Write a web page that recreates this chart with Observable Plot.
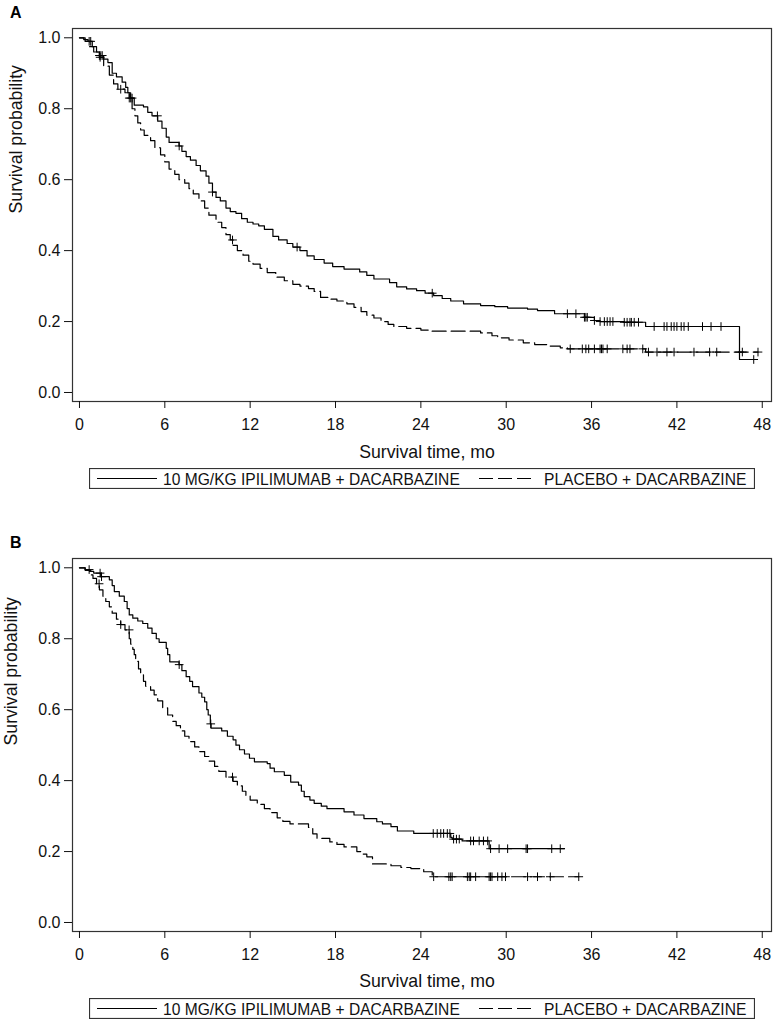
<!DOCTYPE html>
<html>
<head>
<meta charset="utf-8">
<script src="https://cdn.jsdelivr.net/npm/d3@7"></script>
<script src="https://cdn.jsdelivr.net/npm/@observablehq/plot@0.6"></script>
<style>
  html, body { margin: 0; padding: 0; background: #fff; }
  body { font-family: "Liberation Sans", Arial, sans-serif; }
  #wrap { position: relative; width: 774px; height: 1021px; overflow: hidden; }
  .panel { position: absolute; left: 0; }
  .letter { position: absolute; left: 10px; font-weight: bold; font-size: 16px; line-height: 16px; }
  .legend { position: absolute; left: 89px; }
</style>
</head>
<body>
<div id="wrap"></div>
<script>
// ---------------- DATA ----------------
const panelLetters = ["A", "B"];
const xTicks = [0, 6, 12, 18, 24, 30, 36, 42, 48];
const yTicks = [0, 0.2, 0.4, 0.6, 0.8, 1.0];
const xTitle = "Survival time, mo";
const yTitle = "Survival probability";
const seriesNames = ["10 MG/KG IPILIMUMAB + DACARBAZINE", "PLACEBO + DACARBAZINE"];

// Panel A – ipilimumab (solid): step times / survival after each step
const aIpiT = [0, 0.3, 0.6, 0.9, 1.2, 1.4, 1.7, 2.0, 2.3, 2.6, 3.0, 3.25, 3.4, 3.6, 3.85, 4.5, 4.8, 5.1, 5.5, 5.8,
  6.1, 6.3, 7.0, 7.2, 7.5, 7.8, 8.2, 8.5, 8.9, 9.1, 9.35, 9.6, 9.9, 10.3, 10.6, 11.0, 11.4, 11.8, 12.2, 12.6,
  13.0, 13.6, 14.0, 14.6, 15.0, 15.5, 16.0, 16.5, 17.2, 17.8, 18.6, 19.7, 20.2, 20.7, 21.8, 22.3, 23.0, 23.7,
  24.3, 24.9, 25.5, 26.1, 27.0, 28.2, 29.2, 30.1, 31.5, 32.2, 33.4, 35.5, 36.2, 36.6, 38.3, 39.8, 46.4, 47.4];
const aIpiS = [1.0, 0.995, 0.99, 0.975, 0.96, 0.95, 0.94, 0.93, 0.9, 0.89, 0.875, 0.86, 0.845, 0.83, 0.81, 0.805, 0.79, 0.78, 0.765, 0.745,
  0.72, 0.705, 0.695, 0.68, 0.665, 0.655, 0.64, 0.625, 0.61, 0.59, 0.565, 0.55, 0.54, 0.52, 0.51, 0.505, 0.49, 0.48, 0.475, 0.47,
  0.46, 0.44, 0.43, 0.42, 0.41, 0.4, 0.385, 0.375, 0.365, 0.355, 0.348, 0.34, 0.33, 0.32, 0.31, 0.298, 0.292, 0.287,
  0.28, 0.273, 0.265, 0.258, 0.25, 0.245, 0.242, 0.238, 0.235, 0.231, 0.222, 0.212, 0.203, 0.2, 0.198, 0.186, 0.093, 0.093];
const aIpiCens = [0.79, 1.4, 1.5, 1.6, 3.6, 3.7, 5.48, 7.01, 9.35, 15.3, 24.8, 34.3, 34.9, 35.5, 35.6, 35.7, 36.2,
  36.6, 36.9, 37.1, 37.3, 37.5, 38.3, 38.5, 38.7, 38.8, 39.0, 39.3, 40.4, 41.1, 41.3, 41.6, 41.8, 42.0, 42.3,
  42.5, 42.8, 43.8, 44.4, 45.1, 47.4];

// Panel A – placebo (dashed)
const aPlaT = [0, 0.4, 0.7, 1.0, 1.4, 1.7, 2.1, 2.4, 2.7, 3.2, 3.5, 3.7, 3.9, 4.1, 4.3, 4.55, 5.0, 5.3, 5.7, 6.0,
  6.3, 6.7, 7.0, 7.4, 7.7, 8.0, 8.4, 8.8, 9.1, 9.6, 10.0, 10.3, 10.6, 10.8, 11.1, 11.5, 11.9, 12.2, 12.7, 13.2,
  13.8, 14.4, 15.0, 15.5, 16.1, 16.5, 16.95, 17.6, 18.1, 18.8, 19.3, 19.8, 20.2, 20.7, 21.2, 21.7, 22.1, 23.0,
  24.0, 24.7, 28.2, 29.0, 29.4, 30.2, 31.2, 32.0, 32.9, 33.8, 34.3, 39.8, 47.7];
const aPlaS = [1.0, 0.99, 0.975, 0.96, 0.945, 0.92, 0.895, 0.87, 0.855, 0.845, 0.83, 0.8, 0.78, 0.76, 0.74, 0.725, 0.71, 0.69, 0.67, 0.65,
  0.63, 0.615, 0.6, 0.59, 0.575, 0.56, 0.54, 0.52, 0.5, 0.48, 0.465, 0.445, 0.43, 0.415, 0.4, 0.387, 0.37, 0.362, 0.35, 0.338,
  0.325, 0.315, 0.305, 0.3, 0.293, 0.285, 0.268, 0.263, 0.258, 0.25, 0.24, 0.228, 0.218, 0.21, 0.2, 0.192, 0.186, 0.181,
  0.176, 0.173, 0.168, 0.16, 0.154, 0.148, 0.14, 0.135, 0.131, 0.126, 0.123, 0.114, 0.114];
const aPlaCens = [0.68, 1.45, 2.9, 3.5, 10.76, 34.5, 35.35, 35.6, 35.8, 36.2, 36.6, 36.7, 36.8, 37.1, 38.2, 38.5,
  38.7, 39.6, 40.0, 40.6, 41.3, 41.8, 43.2, 44.3, 44.8, 46.4, 46.6, 47.7];

// Panel B – ipilimumab (solid)
const bIpiT = [0, 0.4, 0.7, 1.0, 1.5, 2.1, 2.3, 2.45, 2.8, 3.15, 3.35, 3.5, 3.75, 4.1, 4.45, 4.8, 5.1, 5.4, 5.6, 6.1,
  6.2, 6.35, 7.0, 7.2, 7.5, 7.75, 7.95, 8.4, 8.6, 8.8, 8.95, 9.05, 9.2, 9.25, 10.0, 10.4, 10.8, 11.0, 11.25, 11.6,
  11.95, 12.3, 13.2, 13.4, 13.7, 14.4, 14.85, 15.4, 15.6, 15.8, 16.2, 16.5, 17.0, 17.4, 18.6, 19.3, 20.0, 20.9,
  21.3, 21.9, 22.35, 23.5, 26.1, 26.2, 26.9, 28.8, 34.1];
const bIpiS = [1.0, 0.995, 0.99, 0.985, 0.975, 0.966, 0.95, 0.933, 0.92, 0.905, 0.885, 0.867, 0.858, 0.85, 0.843, 0.83, 0.815, 0.8, 0.79, 0.773,
  0.755, 0.735, 0.727, 0.71, 0.693, 0.68, 0.665, 0.647, 0.635, 0.622, 0.6, 0.585, 0.56, 0.548, 0.54, 0.525, 0.515, 0.5, 0.487, 0.475,
  0.463, 0.453, 0.448, 0.435, 0.425, 0.415, 0.396, 0.387, 0.37, 0.355, 0.345, 0.336, 0.328, 0.321, 0.312, 0.303, 0.293, 0.284,
  0.278, 0.27, 0.258, 0.251, 0.24, 0.235, 0.23, 0.208, 0.208];
const bIpiCens = [0.68, 1.45, 1.55, 7.01, 9.23, 24.87, 25.15, 25.4, 25.6, 25.86, 26.04, 26.3, 26.5, 26.7, 27.5,
  27.7, 28.1, 28.4, 28.7, 28.9, 29.5, 30.1, 31.4, 31.5, 33.2, 33.8];

// Panel B – placebo (dashed)
const bPlaT = [0, 0.4, 0.8, 0.95, 1.2, 1.4, 1.65, 1.85, 2.1, 2.3, 2.6, 2.9, 3.2, 3.5, 3.6, 3.75, 3.85, 3.95, 4.15, 4.3,
  4.5, 4.65, 5.0, 5.25, 5.5, 5.85, 6.2, 6.55, 6.8, 7.1, 7.4, 7.7, 8.1, 8.4, 8.8, 9.1, 9.5, 9.8, 10.3, 10.8,
  11.1, 11.45, 11.7, 12.0, 12.5, 13.0, 13.4, 13.9, 14.3, 14.8, 16.1, 16.4, 16.7, 17.6, 18.1, 18.6, 19.5, 19.9,
  20.2, 20.6, 21.9, 22.6, 23.3, 24.2, 24.8, 35.1];
const bPlaS = [1.0, 0.993, 0.98, 0.97, 0.955, 0.938, 0.92, 0.905, 0.89, 0.872, 0.855, 0.84, 0.825, 0.8, 0.785, 0.77, 0.755, 0.736, 0.715, 0.698,
  0.68, 0.666, 0.655, 0.642, 0.625, 0.605, 0.585, 0.567, 0.555, 0.54, 0.525, 0.51, 0.495, 0.482, 0.468, 0.455, 0.44, 0.426, 0.41, 0.398,
  0.385, 0.37, 0.358, 0.345, 0.333, 0.321, 0.31, 0.295, 0.285, 0.278, 0.268, 0.25, 0.237, 0.227, 0.22, 0.213, 0.2, 0.193,
  0.185, 0.165, 0.16, 0.155, 0.152, 0.143, 0.129, 0.129];
const bPlaCens = [1.38, 2.9, 3.49, 10.76, 24.9, 25.97, 26.1, 26.2, 27.27, 27.4, 27.5, 27.85, 28.8, 28.9, 29.0,
  29.4, 29.7, 29.95, 31.5, 32.2, 33.1, 35.1];

// ---------------- HELPERS ----------------
const FONT = '"Liberation Sans", Arial, Helvetica, sans-serif';
const DASH = "14,5";

function toSteps(T, S) { return T.map((t, i) => ({t, s: S[i]})); }
function levelAt(T, S, t) {
  let s = S[0];
  for (let i = 0; i < T.length; i++) if (T[i] <= t + 1e-9) s = S[i];
  return s;
}
function toCens(C, T, S) { return C.map(t => ({t, s: levelAt(T, S, t)})); }

function makePanel(cfg) {
  return Plot.plot({
    width: 774,
    height: 465,
    marginTop: 28,
    marginLeft: 72,
    marginRight: 3,
    marginBottom: 64,
    x: {domain: [-0.49, 48.65]},
    y: {domain: [-0.0254, 1.0262]},
    style: {fontFamily: FONT, fontSize: "16px", color: "#111", background: "#fff", overflow: "visible"},
    marks: [
      Plot.line(toSteps(cfg.ipiT, cfg.ipiS), {x: "t", y: "s", curve: "step-after", stroke: "#000", strokeWidth: 1.2}),
      Plot.line(toSteps(cfg.plaT, cfg.plaS), {x: "t", y: "s", curve: "step-after", stroke: "#000", strokeWidth: 1.2, strokeDasharray: DASH}),
      Plot.dot(toCens(cfg.ipiC, cfg.ipiT, cfg.ipiS), {x: "t", y: "s", symbol: "plus", r: 2.9, fill: "none", stroke: "#000", strokeWidth: 1}),
      Plot.dot(toCens(cfg.plaC, cfg.plaT, cfg.plaS), {x: "t", y: "s", symbol: "plus", r: 2.9, fill: "none", stroke: "#000", strokeWidth: 1}),
      Plot.frame({stroke: "#333", strokeWidth: 1.2}),
      Plot.axisX({ticks: xTicks, tickSize: 7, tickPadding: 10, tickFormat: d => String(d), label: null, fontSize: 16}),
      Plot.axisY({ticks: yTicks, tickSize: 8, tickPadding: 4, tickFormat: d3.format(".1f"), label: null, fontSize: 16}),
      Plot.text([xTitle], {text: d => d, frameAnchor: "bottom", dy: cfg.xTitleDy, dx: 5, lineAnchor: "bottom", fontSize: 17.7, fill: "#111"}),
      Plot.text([yTitle], {text: d => d, frameAnchor: "left", rotate: -90, dx: cfg.yTitleDx, dy: cfg.yTitleDy, lineAnchor: "bottom", fontSize: 17.7, fill: "#111"})
    ]
  });
}

function makeLegend() {
  const ns = "http://www.w3.org/2000/svg";
  const svg = document.createElementNS(ns, "svg");
  svg.setAttribute("width", 666);
  svg.setAttribute("height", 21);
  svg.setAttribute("font-family", FONT);
  const add = (tag, attrs, txt) => {
    const el = document.createElementNS(ns, tag);
    for (const k in attrs) el.setAttribute(k, attrs[k]);
    if (txt) el.textContent = txt;
    svg.appendChild(el);
  };
  add("rect", {x: 0.5, y: 0.5, width: 665, height: 20, fill: "#fff", stroke: "#333", "stroke-width": 1.2});
  add("line", {x1: 8, x2: 68, y1: 10.5, y2: 10.5, stroke: "#000", "stroke-width": 1.2});
  add("text", {x: 74, y: 16.5, "font-size": 15.6, fill: "#111"}, seriesNames[0]);
  add("line", {x1: 390, x2: 443, y1: 10.5, y2: 10.5, stroke: "#000", "stroke-width": 1.2, "stroke-dasharray": DASH});
  add("text", {x: 455, y: 16.5, "font-size": 15.6, fill: "#111"}, seriesNames[1]);
  return svg;
}

const panels = [
  {top: 0, letter: panelLetters[0], ipiT: aIpiT, ipiS: aIpiS, ipiC: aIpiCens, plaT: aPlaT, plaS: aPlaS, plaC: aPlaCens,
   xTitleDy: 56, yTitleDx: -50.3, yTitleDy: -1.5},
  {top: 530, letter: panelLetters[1], ipiT: bIpiT, ipiS: bIpiS, ipiC: bIpiCens, plaT: bPlaT, plaS: bPlaS, plaC: bPlaCens,
   xTitleDy: 55, yTitleDx: -56, yTitleDy: 0.5}
];

const wrap = document.getElementById("wrap");
for (const p of panels) {
  const div = document.createElement("div");
  div.className = "panel";
  div.style.top = p.top + "px";
  div.appendChild(makePanel(p));
  wrap.appendChild(div);

  const letter = document.createElement("div");
  letter.className = "letter";
  letter.style.top = (p.top + 4.5) + "px";
  letter.textContent = p.letter;
  wrap.appendChild(letter);

  const leg = makeLegend();
  leg.setAttribute("class", "legend");
  leg.style.position = "absolute";
  leg.style.left = "89px";
  leg.style.top = (p.top + 468) + "px";
  wrap.appendChild(leg);
}
</script>
</body>
</html>
